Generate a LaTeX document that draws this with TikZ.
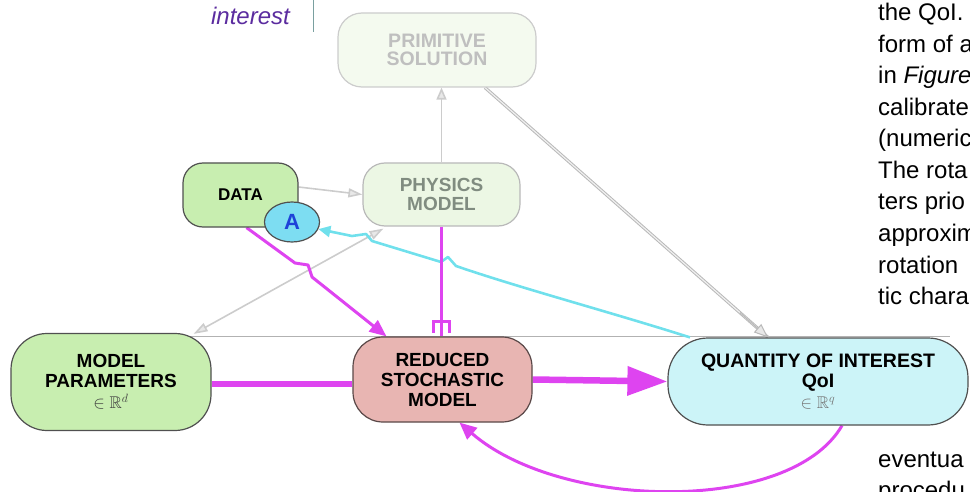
\documentclass[tikz,border=0pt]{standalone}
\usepackage{fontspec}
\usepackage{amssymb}
\setmainfont{Liberation Sans}
\usetikzlibrary{arrows.meta,shapes.geometric,backgrounds}
\definecolor{mag}{RGB}{222,68,240}
\definecolor{cyl}{RGB}{112,224,236}
\definecolor{primfill}{RGB}{244,250,239}
\definecolor{physfill}{RGB}{236,247,228}
\definecolor{greenfill}{RGB}{200,238,176}
\definecolor{redfill}{RGB}{232,181,178}
\definecolor{qoifill}{RGB}{204,244,248}
\definecolor{afill}{RGB}{125,221,242}
\definecolor{ablue}{RGB}{30,66,216}
\definecolor{purp}{RGB}{91,44,159}
\definecolor{edge}{RGB}{80,80,80}
\definecolor{phystext}{RGB}{128,140,128}
\newcommand\membfont{\normalfont\fontsize{17}{17}\selectfont}
\begin{document}
\begin{tikzpicture}[x=1pt,y=-1pt,
  box/.style={draw=edge, line width=1.2pt, align=center, inner sep=0pt,
    font=\bfseries\fontsize{19}{20}\selectfont},
  rtext/.style={anchor=base west, inner sep=0pt, font=\fontsize{24}{24}\selectfont},
  magline/.style={draw=mag, line width=3pt},
  greyarr/.style={draw=gray!40, line width=1.6pt},
]
\useasboundingbox (0,0) rectangle (970,492);
\clip (0,0) rectangle (970,492);

% text fragments
\node[anchor=base east, inner sep=0pt, font=\itshape\fontsize{24}{24}\selectfont, text=purp] (intr) at (290,25) {interest};
\coordinate (vl1) at (313,0);
\coordinate (vl2) at (313,32);
\draw[color={rgb,255:red,122;green,160;blue,160}, line width=0.8pt] (vl1) -- (vl2);

\node[rtext] (t1) at (878,21) {the QoI.};
\node[rtext] (t2) at (878,52.5) {form of a};
\node[rtext] (t3) at (878,84) {in \textit{Figure}};
\node[rtext] (t4) at (878,115.5) {calibrate};
\node[rtext] (t5) at (878,147) {(numeric};
\node[rtext] (t6) at (878,178.5) {The rota};
\node[rtext] (t7) at (878,210) {ters prio};
\node[rtext] (t8) at (878,241.5) {approxim};
\node[rtext] (t9) at (878,273) {rotation};
\node[rtext] (t10) at (878,304.5) {tic chara};
\node[rtext] (t11) at (878,467) {eventua};
\node[rtext] (t12) at (878,498) {procedu};

% nodes
\node[box, fill=primfill, draw=gray!40, text=gray!50, minimum width=198pt, minimum height=74pt, rounded corners=24pt,
  font=\bfseries\fontsize{19.5}{18.5}\selectfont] (prim) at (437,50) {PRIMITIVE\\SOLUTION};
\node[box, fill=physfill, draw=gray!55, text=phystext, minimum width=157pt, minimum height=63pt, rounded corners=22pt,
  font=\bfseries\fontsize{19}{19.5}\selectfont] (phys) at (441.5,194.5) {PHYSICS\\MODEL};
\node[box, fill=greenfill, minimum width=115pt, minimum height=64pt, rounded corners=20pt,
  font=\bfseries\fontsize{17}{19}\selectfont] (data) at (240.5,195) {DATA};
\node[ellipse, draw=edge, line width=1.2pt, fill=afill, minimum width=55pt, minimum height=40pt, inner sep=0pt,
  font=\bfseries\fontsize{22}{22}\selectfont, text=ablue] (A) at (292,222) {A};
\node[box, fill=greenfill, minimum width=200pt, minimum height=97pt, rounded corners=36pt] (mp) at (111,382)
  {MODEL\\PARAMETERS\\[1pt]{\membfont\color{black!75}$\in\mathbb{R}^d$}};
\node[box, fill=redfill, draw={rgb,255:red,90;green,72;blue,72}, minimum width=179pt, minimum height=85pt, rounded corners=30pt] (red) at (442.5,379.5)
  {REDUCED\\STOCHASTIC\\MODEL};
\node[box, fill=qoifill, minimum width=300pt, minimum height=87pt, rounded corners=40pt,
  font=\bfseries\fontsize{19.5}{20}\selectfont] (qoi) at (818,381.5)
  {QUANTITY OF INTEREST\\QoI\\[1pt]{\membfont\color{black!55}$\in\mathbb{R}^q$}};

\coordinate (hl1) at (190,336);
\coordinate (hl2) at (950,336);

\begin{pgfonlayer}{background}
% thin horizontal grey line
\draw[gray!60, line width=0.9pt] (hl1) -- (hl2);
% grey arrows
\draw[greyarr, -{Triangle[length=12pt,width=10pt,fill=gray!18]}] (phys.north) -- (phys.north |- prim.south);
\draw[gray!55, line width=3.2pt] ([xshift=48pt]prim.south) -- ([xshift=-50pt]qoi.north);
\draw[gray!12, line width=1.2pt, shorten >=12pt] ([xshift=48pt]prim.south) -- ([xshift=-50pt]qoi.north);
\draw[draw=gray!55, line width=1pt, -{Triangle[length=14pt,width=11pt,fill=gray!18]}, shorten <=340pt] ([xshift=48pt]prim.south) -- ([xshift=-50pt]qoi.north);
\draw[greyarr, -{Triangle[length=14pt,width=9pt,fill=gray!18]}] ([yshift=8pt]data.east) -- (phys.west);
\draw[greyarr, {Triangle[length=14pt,width=9pt,fill=gray!18]}-{Triangle[length=14pt,width=9pt,fill=gray!18]}]
  ([xshift=-18pt,yshift=-1pt]mp.north east) -- ([xshift=21pt,yshift=-2pt]phys.south west);
% cyan arrow
\draw[draw=cyl, line width=2.6pt, line join=round, -{Triangle[length=12pt,width=11pt]}]
  ([xshift=-128pt]qoi.north) .. controls (610,312) and (520,288) .. (456,266)
  -- (448,257) -- (441,262) -- (372,241) -- (366,234) -- (352,236) -- (A.-15);
% magenta connectors
\draw[magline, line join=round, -{Triangle[length=17pt,width=14pt]}]
  ([xshift=6pt]data.south) -- (295,263) -- (308,265) -- (312,277) -- ([xshift=-56pt]red.north);
\draw[magline] (phys.south) -- (phys.south |- red.north);
\draw[mag, line width=3pt] ([xshift=-9.5pt,yshift=15pt]phys.south |- red.north) -- ([xshift=9.5pt,yshift=15pt]phys.south |- red.north);
\draw[mag, line width=3pt] ([xshift=-8pt,yshift=15pt]phys.south |- red.north) -- ([xshift=-8pt,yshift=3pt]phys.south |- red.north);
\draw[mag, line width=3pt] ([xshift=8pt,yshift=15pt]phys.south |- red.north) -- ([xshift=8pt,yshift=3pt]phys.south |- red.north);
\draw[draw=mag, line width=6.5pt] ([yshift=-2pt]mp.east) -- ([yshift=-2pt]mp.east -| red.west);
\draw[draw=mag, line width=6.5pt, -{Triangle[length=40pt,width=28pt]}] (red.east) -- (qoi.west);
\draw[magline, -{Triangle[length=17pt,width=15pt]}]
  ([xshift=24pt]qoi.south) .. controls (790,515) and (560,510) .. ([xshift=17pt]red.south);
\end{pgfonlayer}
\end{tikzpicture}
\end{document}
